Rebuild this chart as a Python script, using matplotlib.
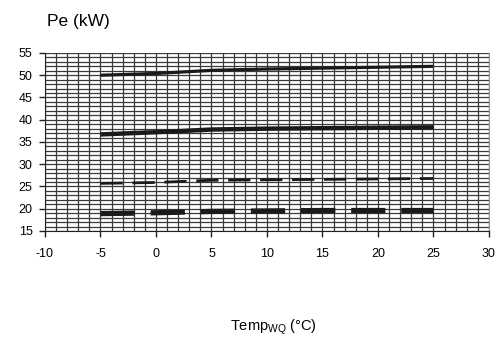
import matplotlib
matplotlib.use("Agg")
import matplotlib.pyplot as plt
import numpy as np

plt.rcParams['font.family'] = ['Liberation Sans', 'DejaVu Sans']

# Source temperature (°C) and electrical power curves (kW)
temp = [-5, 0, 5, 10, 15, 20, 25]
pe_a = [50.0, 50.4, 51.1, 51.4, 51.6, 51.8, 52.0]
pe_b = [36.7, 37.2, 37.8, 38.0, 38.1, 38.2, 38.3]
pe_c = [25.7, 25.9, 26.4, 26.5, 26.6, 26.7, 26.8]
pe_d = [18.9, 19.1, 19.4, 19.5, 19.6, 19.6, 19.6]

x_ticks = [-10, -5, 0, 5, 10, 15, 20, 25, 30]
y_ticks = [15, 20, 25, 30, 35, 40, 45, 50, 55]

fig = plt.figure(figsize=(5.02, 3.41), dpi=100)
ax = fig.add_axes([0.0896, 0.3226, 0.8845, 0.522])

ax.set_xlim(-10, 30)
ax.set_ylim(15, 55)

# fine 1-unit grid
for xv in np.arange(-10, 31, 1):
    ax.axvline(xv, color='#3a3a3a', lw=0.9, zorder=1)
for yv in np.arange(15, 56, 1):
    ax.axhline(yv, color='#3a3a3a', lw=0.9, zorder=1)

ax.plot(temp, pe_a, color='#1a1a1a', lw=2.3, solid_capstyle='butt', zorder=3)
ax.plot(temp, pe_b, color='#1a1a1a', lw=3.2, solid_capstyle='butt', zorder=3)
ax.plot(temp, pe_c, color='#1a1a1a', lw=2.0, dashes=(8, 3.5), zorder=3)
ax.plot(temp, pe_d, color='#1a1a1a', lw=3.8, dashes=(6.5, 3), zorder=3)

ax.set_xticks(x_ticks)
ax.set_yticks(y_ticks)
ax.set_xticklabels([str(v) for v in x_ticks])
ax.set_yticklabels([str(v) for v in y_ticks])
ax.tick_params(axis='both', labelsize=9, length=4, width=1, color='#222222')
ax.tick_params(axis='x', pad=8)
ax.tick_params(axis='y', pad=5)

ax.spines['top'].set_visible(False)
ax.spines['right'].set_color('#999999')
ax.spines['left'].set_color('#222222')
ax.spines['bottom'].set_color('#222222')

fig.text(0.093, 0.937, 'Pe (kW)', fontsize=12.5, ha='left', va='center')
fig.text(0.544, 0.04, r'Temp$_{\mathregular{WQ}}$ (°C)', fontsize=10.5, ha='center', va='center')

fig.savefig('out.png', dpi=100)
